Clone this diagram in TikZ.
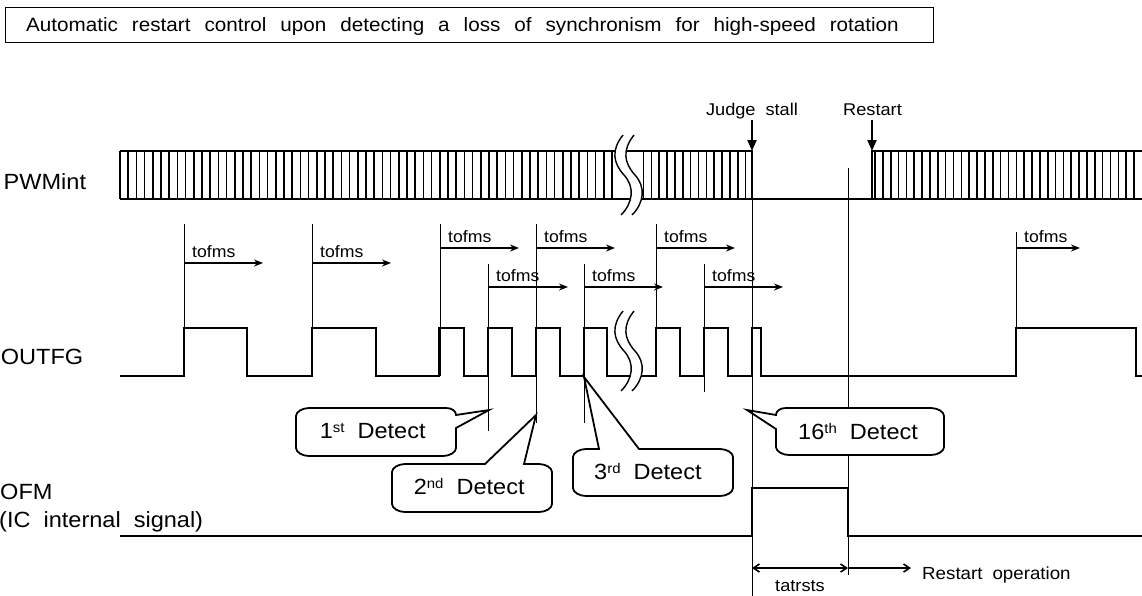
\documentclass[tikz,border=0pt]{standalone}
\usepackage{fontspec}
\setmainfont{Liberation Sans}[FakeStretch=1.07]
\usetikzlibrary{arrows.meta}
\newcommand\mysup[1]{\raisebox{6pt}{\fontsize{14}{14}\selectfont #1}}
\newcommand\lblfont{\fontsize{22}{26}\selectfont\spaceskip=13pt\relax}
\newcommand\smallfont{\fontsize{17}{20}\selectfont\spaceskip=10pt\relax}
\newcommand\ropfont{\fontsize{17.5}{20}\selectfont\spaceskip=10pt\relax}
\newcommand\titlefont{\fontsize{19.3}{23}\selectfont\spaceskip=14pt\relax}
\newcommand\toffont{\fontsize{16.5}{19}\selectfont}
\begin{document}
\begin{tikzpicture}[x=1pt,y=-1pt,
 sig/.style={line width=2.2pt},
 thinl/.style={line width=1pt},
 hatchl/.style={line width=1.6pt},
 brk/.style={line width=1.4pt},
 tarr/.style={line width=1.8pt,-{Stealth[length=9pt,width=7pt,inset=3pt]}},
 darr/.style={line width=1.6pt,{Straight Barb[length=6pt,width=8pt]}-{Straight Barb[length=6pt,width=8pt]}},
 rarr/.style={line width=1.6pt,-{Straight Barb[length=6pt,width=8pt]}},
 jarr/.style={line width=2pt,-{Triangle[length=11pt,width=9pt]}},
 callout/.style={line width=1.8pt, fill=white},
 lbl/.style={anchor=base west, inner sep=0pt, font=\lblfont},
 tof/.style={anchor=base west, inner sep=0pt, font=\toffont},
 smalltxt/.style={anchor=base, inner sep=0pt, font=\smallfont},
 titletxt/.style={anchor=base west, inner sep=0pt, font=\titlefont},
]
\useasboundingbox (0,0) rectangle (1142,595);

% title
\node[draw, line width=1.4pt, anchor=north west, minimum width=928pt, minimum height=35pt, inner sep=0pt] (tbox) at (5,7) {};
\node[titletxt] (title) at (26,31.4) {Automatic restart control upon detecting a loss of synchronism for high-speed rotation};

% signal labels
\node[lbl] (lpwm) at (3.5,189) {PWMint};
\node[lbl] (lout) at (0.7,364) {OUTFG};
\node[lbl] (lofm) at (0,499) {OFM};
\node[lbl] (lic) at (-1,527.7) {(IC internal signal)};

% thin guide lines
\foreach \x/\a/\b in {184/224/376, 312/224/376, 440/224/376, 488/264/431, 536/224/423, 584/264/423, 656/224/376, 704/264/392, 1016/232/376, 848/168/575}
  \draw[thinl] (\x,\a) -- (\x,\b);

% PWMint
\foreach \i in {0,...,60} \draw[hatchl] ({120+8.2*\i},151) -- ({120+8.2*\i},199);
\foreach \i in {0,...,13} \draw[hatchl] ({643.5+7.85*\i},151) -- ({643.5+7.85*\i},199);
\foreach \i in {0,...,33} \draw[hatchl] ({875+7.85*\i},151) -- ({875+7.85*\i},199);
\draw[sig] (120,151) -- (752,151) -- (752,199);
\draw[sig] (120,199) -- (1142,199);
\draw[sig] (872,199) -- (872,151) -- (1142,151);

% OUTFG
\draw[sig] (120,376) -- (184,376) -- (184,328) -- (247,328) -- (247,376) -- (312,376) -- (312,328) -- (376,328) -- (376,376)
 -- (439,376) -- (439,328) -- (464,328) -- (464,376) -- (488,376) -- (488,328) -- (512,328) -- (512,376)
 -- (536,376) -- (536,328) -- (560,328) -- (560,376) -- (584,376) -- (584,328) -- (607,328) -- (607,376)
 -- (656,376) -- (656,328) -- (680,328) -- (680,376) -- (704,376) -- (704,328) -- (728,328) -- (728,376)
 -- (752,376) -- (752,328) -- (761,328) -- (761,376) -- (1016,376) -- (1016,328) -- (1136,328) -- (1136,376) -- (1142,376);

% OFM
\draw[sig] (120,536) -- (752,536) -- (752,488) -- (848,488) -- (848,536) -- (1142,536);

% breaks
\foreach \dy in {0,176} {
 \fill[white] (623,{135+\dy}) .. controls (611,{150+\dy}) and (613,{163+\dy}) .. (624,{175+\dy}) .. controls (635,{187+\dy}) and (633,{203+\dy}) .. (621,{215+\dy})
   -- (632,{215+\dy}) .. controls (644,{203+\dy}) and (646,{187+\dy}) .. (635,{175+\dy}) .. controls (624,{163+\dy}) and (622,{150+\dy}) .. (634,{135+\dy}) -- cycle;
 \foreach \dx in {0,11}
   \draw[brk] ({623+\dx},{135+\dy}) .. controls ({611+\dx},{150+\dy}) and ({613+\dx},{163+\dy}) .. ({624+\dx},{175+\dy}) .. controls ({635+\dx},{187+\dy}) and ({633+\dx},{203+\dy}) .. ({621+\dx},{215+\dy});
}

% tofms arrows
\foreach \x/\y/\l in {184/263/79, 312/263/79, 440/248/79, 536/248/79, 656/248/79, 1016/248/64, 488/287/80, 584/287/79, 704/287/79} {
  \draw[tarr] (\x,\y) -- ({\x+\l},\y);
  \node[tof] at ({\x+8},{\y-5.5}) {tofms};
}

% judge stall / restart
\node[smalltxt] (judge) at (752,115) {Judge stall};
\node[smalltxt] (restart) at (872.5,115) {Restart};
\coordinate (jtop) at (752,120); \coordinate (jbot) at (752,151);
\coordinate (rtop) at (872,120); \coordinate (rbot) at (872,151);
\draw[jarr] (jtop) -- (jbot);
\draw[jarr] (rtop) -- (rbot);

% callouts
\draw[callout] (376,456) -- (309,456) .. controls (302,456) and (296,452) .. (296,448) -- (296,416) .. controls (296,412) and (302,408) .. (309,408) -- (446,408) .. controls (452,408) and (456,411) .. (456,415) -- (489,410) -- (456,428) -- (456,448) .. controls (456,452) and (450,456) .. (443,456) -- cycle;
\draw[callout] (472,512) -- (405,512) .. controls (398,512) and (392,508) .. (392,504) -- (392,472) .. controls (392,468) and (398,464) .. (405,464) -- (485,464) -- (536,415) -- (524,464) -- (539,464) .. controls (546,464) and (552,468) .. (552,472) -- (552,504) .. controls (552,508) and (546,512) .. (539,512) -- cycle;
\draw[callout] (653,496) -- (586,496) .. controls (579,496) and (573,492) .. (573,488) -- (573,457) .. controls (573,453) and (579,449) .. (586,449) -- (599,449) -- (584,377) -- (639,449) -- (720,449) .. controls (727,449) and (733,453) .. (733,457) -- (733,488) .. controls (733,492) and (727,496) .. (720,496) -- cycle;
\draw[callout] (860,455) -- (931,455) .. controls (938,455) and (944,451) .. (944,447) -- (944,416) .. controls (944,412) and (938,408) .. (931,408) -- (786,408) .. controls (780,408) and (776,411) .. (776,415) -- (747,410) -- (776,429) -- (776,447) .. controls (776,451) and (782,455) .. (789,455) -- cycle;
\node[lbl] (d1) at (319.6,438.3) {1\mysup{st} Detect};
\node[lbl] (d2) at (413.6,494.3) {2\mysup{nd} Detect};
\node[lbl] (d3) at (594,479.3) {3\mysup{rd} Detect};
\node[lbl] (d16) at (798,439.3) {16\mysup{th} Detect};

% judge line on top
\draw[thinl] (752,151) -- (752,600);

% tatrsts
\coordinate (ta) at (752,568); \coordinate (tb) at (848,568); \coordinate (tc) at (911,568);
\draw[darr] (ta) -- (tb);
\draw[rarr] (tb) -- (tc);
\node[smalltxt] (tat) at (800,591.5) {tatrsts};
\node[anchor=base west, inner sep=0pt, font=\ropfont] (rop) at (922,579.3) {Restart operation};
\end{tikzpicture}
\end{document}
